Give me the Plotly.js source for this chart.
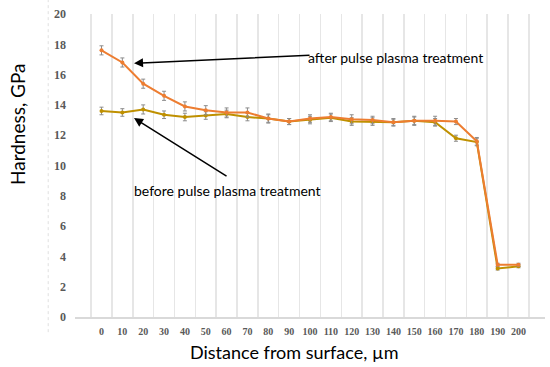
<!DOCTYPE html>
<html>
<head>
<meta charset="utf-8">
<script src="https://cdn.plot.ly/plotly-3.0.1.min.js"></script>
<style>html,body{margin:0;padding:0;background:#fff}#chart{width:550px;height:367px}</style>
</head>
<body>
<div id="chart"></div>
<script>
const distances = ['0','10','20','30','40','50','60','70','80','90','100','110','120','130','140','150','160','170','180','190','200'];
const afterTreatment  = [17.6,16.8,15.4,14.6,13.9,13.65,13.5,13.5,13.1,12.9,13.1,13.2,13.05,13.0,12.85,12.95,12.95,12.9,11.6,3.45,3.45];
const beforeTreatment = [13.6,13.5,13.7,13.35,13.2,13.3,13.4,13.2,13.1,12.9,13.0,13.15,12.9,12.9,12.85,12.95,12.85,11.8,11.55,3.2,3.35];
const afterErr  = [0.3,0.3,0.3,0.3,0.3,0.3,0.3,0.3,0.3,0.2,0.25,0.25,0.3,0.25,0.25,0.3,0.3,0.2,0.25,0.1,0.1];
const beforeErr = [0.25,0.25,0.3,0.25,0.25,0.25,0.25,0.25,0.25,0.2,0.25,0.25,0.25,0.25,0.2,0.25,0.25,0.2,0.25,0.1,0.1];

const sansFamily = 'Lato, Liberation Sans, sans-serif';
const noteFont = {family: sansFamily, size: 14, color: '#000'};

const traces = [
  {
    x: distances, y: beforeTreatment, name: 'before pulse plasma treatment',
    type: 'scatter', mode: 'lines+markers',
    line: {color: '#BF9000', width: 2},
    marker: {color: '#BF9000', size: 4},
    error_y: {type: 'data', array: beforeErr, visible: true, color: '#8c8c8c', thickness: 1, width: 2}
  },
  {
    x: distances, y: afterTreatment, name: 'after pulse plasma treatment',
    type: 'scatter', mode: 'lines+markers',
    line: {color: '#ED7D31', width: 2},
    marker: {color: '#ED7D31', size: 4},
    error_y: {type: 'data', array: afterErr, visible: true, color: '#8c8c8c', thickness: 1, width: 2}
  }
];

const layout = {
  width: 550, height: 367,
  margin: {l: 75, r: 5, t: 14, b: 50},
  paper_bgcolor: '#fff', plot_bgcolor: '#fff',
  showlegend: false,
  xaxis: {
    type: 'category',
    tickson: 'boundaries',
    tickangle: 0,
    showgrid: true, gridcolor: '#e6e6e6', gridwidth: 1.5,
    showline: true, linecolor: '#d9d9d9', linewidth: 1.5,
    ticks: '', zeroline: false,
    ticklabelstandoff: 4,
    tickfont: {family: 'Liberation Serif', size: 10, color: '#595959', weight: 'bold'}
  },
  yaxis: {
    range: [0, 20], dtick: 2, tick0: 0,
    showgrid: false, zeroline: false, showline: false, ticks: '',
    ticklabelstandoff: 8,
    tickfont: {family: 'Liberation Serif', size: 12, color: '#595959', weight: 'bold'}
  },
  shapes: [
    {type: 'line', xref: 'paper', yref: 'paper', x0: -0.057, x1: -0.057, y0: -0.05, y1: 1.046,
     line: {color: '#e0e0e0', width: 1, dash: 'dot'}}
  ],
  annotations: [
    {xref: 'paper', yref: 'paper', x: (294 - 75) / 470, y: -(352 - 317) / 303, xanchor: 'center', yanchor: 'middle',
     text: 'Distance from surface, µm', showarrow: false, font: {family: sansFamily, size: 18, color: '#000'}},
    {xref: 'paper', yref: 'paper', x: (18 - 75) / 470, y: (317 - 124) / 303, xanchor: 'center', yanchor: 'middle',
     text: 'Hardness, GPa', textangle: -90, showarrow: false, font: {family: sansFamily, size: 19, color: '#000'}},
    {x: 9.79, y: 17.16, xanchor: 'left', yanchor: 'middle', text: 'after pulse plasma treatment',
     showarrow: false, font: noteFont},
    {x: 1.47, y: 8.32, xanchor: 'left', yanchor: 'middle', text: 'before pulse plasma treatment',
     showarrow: false, font: noteFont},
    {x: 1.56, y: 16.75, text: '', showarrow: true, arrowhead: 2, arrowsize: 1.2, arrowwidth: 1.5,
     arrowcolor: '#000', ax: 177, ay: -8, standoff: 0},
    {x: 1.56, y: 13.13, text: '', showarrow: true, arrowhead: 2, arrowsize: 1.2, arrowwidth: 1.5,
     arrowcolor: '#000', ax: 94, ay: 59, standoff: 0}
  ]
};

Plotly.newPlot('chart', traces, layout, {displayModeBar: false, staticPlot: true});
</script>
</body>
</html>
